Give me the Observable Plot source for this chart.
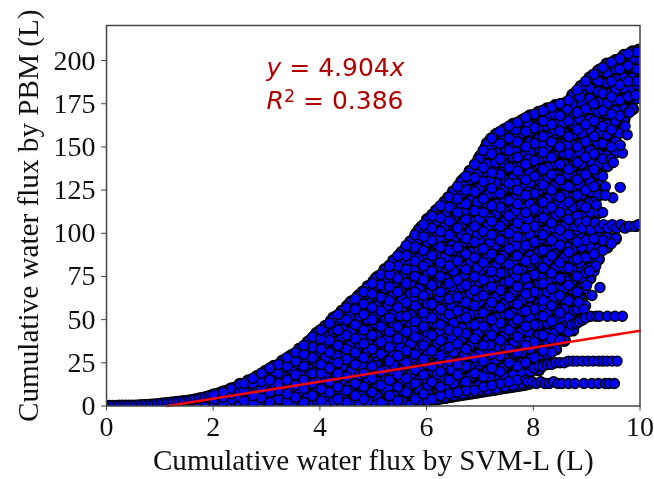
<!DOCTYPE html>
<html><head><meta charset="utf-8">
<script src="https://cdn.jsdelivr.net/npm/d3@7"></script>
<script src="https://cdn.jsdelivr.net/npm/@observablehq/plot@0.6"></script>
<style>html,body{margin:0;padding:0;background:#fff}svg{display:block;filter:blur(0.45px)}</style>
</head><body><div id="chart"></div>
<script>
const xTicks = [0,2,4,6,8,10];
const yTicks = [0,25,50,75,100,125,150,175,200];
const xLabel = "Cumulative water flux by SVM-L (L)";
const yLabel = "Cumulative water flux by PBM (L)";
const fitX = [1.14,10];
const fitY = [0,43.6];
const colX = [2.02,2.18,2.34,2.5,2.66,2.82,2.98,3.14,3.3,3.46,3.62,3.78,3.94,4.1,4.26,4.42,4.58,4.74,4.9,5.06,5.22,5.38,5.54,5.7,5.86,6.02,6.18,6.34,6.5,6.66,6.82,6.98,7.14,7.3,7.46,7.62,7.78,7.94,8.1,8.26,8.42,8.58,8.74,8.9,9.06,9.22,9.38,9.54,9.7,9.86,9.98];
const colY = [
[1,4,6.5],[2,5,8],[1,4,7,10],[1,5,9,12.5],[3,7,11,14.5],[1,5,9,13,17],[3,7,12,16,20],[1,6,11,16,20,23],[3,8,13,18,22,26],[1,6,11,16,21,25,29],[3,8,14,19,24,29,33],[1,6,12,17,22,27,32,37],[3,9,14,20,25,31,36,42],
[1,6,12,17,23,28,34,40,46],[3,9,15,20,26,31,37,43,47,51],[1,6,12,18,23,29,34,40,45,50,55],[3,9,15,20,26,32,37,43,49,54,60],[1,6,12,18,24,29,35,40,46,52,58,64],[3,9,15,21,26,32,38,44,50,55,60,65,69],[1,6,12,18,24,29,35,41,47,53,58,64,69,74],[3,9,15,21,27,32,38,44,50,56,62,68,74,79],
[1,6,12,18,24,30,35,41,47,53,59,65,71,78,84],[3,9,15,21,27,33,38,44,50,56,62,68,75,82,89],[1,6,12,18,24,30,36,42,47,53,59,65,71,77,83,89,95],[3,9,15,21,27,33,39,45,50,56,62,68,74,80,86,91,97,102],[3,8,12,18,24,30,36,42,48,53,59,65,71,77,83,89,95,101,108],
[4,7,13,18,24,30,36,41,47,53,59,65,71,77,83,88,94,100,107,113],[5,10,16,22,28,33,39,45,51,57,62,68,74,80,86,92,98,104,111,118],[6,8,13,19,25,31,36,42,48,54,60,66,72,78,84,90,96,102,108,114,119,124],[7,10,16,22,27,33,39,45,51,57,63,69,75,81,87,93,99,105,111,117,123,130],
[8,11,17,23,29,35,41,47,53,59,65,71,77,83,89,95,101,107,113,119,125,131,136],[9,12,18,24,30,36,42,48,54,60,66,72,78,84,90,96,102,108,114,120,126,132,138,143],[9.5,14,20,26,32,38,44,50,56,62,68,74,80,86,92,98,104,110,116,122,128,134,140,146,152],
[10,15,21,27,33,39,45,51,57,63,69,75,81,87,93,99,105,111,117,123,129,135,141,147,152,157],[11,17,23,29,35,41,47,53,59,65,71,77,83,89,95,101,107,113,119,125,131,137,143,149,155,160],[12,18,24,30,36,42,48,54,60,66,72,78,84,90,96,102,108,114,120,126,132,138,144,150,157,163],
[13,19,25,31,37,43,49,55,61,67,73,79,85,91,97,103,109,115,121,127,133,139,145,151,158,165],[14,20,27,33,39,45,51,57,63,69,75,81,87,93,99,105,111,117,123,129,135,141,147,153,159,164,168],[21,25,29,35,41,47,53,59,65,71,77,83,89,95,101,107,113,119,125,131,137,143,149,155,161,166,170],
[26,30,36,42,48,54,60,66,72,78,84,90,96,102,108,114,120,126,132,138,144,150,156,162,168,172],[33,38,44,50,56,62,68,74,80,86,92,98,104,110,116,122,128,134,140,146,152,158,164,170,174],[38,44,50,56,62,68,74,80,86,92,98,104,110,116,122,128,134,140,146,152,158,164,170,175],
[44,49,55,61,67,73,79,85,91,97,103,109,115,121,127,133,139,145,151,157,163,169,175,180],[50,56,62,68,74,80,86,92,98,104,110,116,122,128,134,140,146,152,158,164,170,176,181,185],[74,80,86,92,98,104,112,118,124,130,136,142,148,154,160,166,172,178,184,190],
[85,91,98,104,112,122,128,134,140,146,152,158,164,170,176,182,188,194],[92,98,139,145,151,157,163,169,175,181,187,193,198],[97,147,153,159,165,171,177,183,189,195,200],[166,172,178,184,190,196,203],[172,178,184,190,196,201,205],[182,188,194,200,206]
];
const midX = [2.58,2.74,2.9,3.06,3.22,3.38,3.54,3.7,3.86,4.02,4.18,4.34,4.5,4.66,4.82,4.98,5.14,5.3,5.46,5.62,5.78,5.94,6.1,6.26,6.42,6.58,6.74,6.9,7.06,7.22,7.38,7.54,7.7,7.86,8.02,8.18,8.34,8.5,8.66,8.82,8.98,9.14,9.3,9.46,9.62,9.78,9.94];
const midY = [
[3,9,13],[2,6,13,16],[5,10,14,19],[2,8,15,22],[4,9,13,19,24],[2,7,15,23,28],[5,12,18,26,31],[2,10,15,23,30,35],[6,13,19,28,34,40],[3,10,19,24,33,39,44],[8,14,22,31,38,48],[4,11,19,25,35,44,53],[2,9,17,27,33,41,50,57],[6,13,24,31,39,47,56,62],[4,11,19,28,36,44,53,59,66],[8,16,23,33,41,50,57,65,71],
[2,12,20,30,37,46,55,63,70,76],[6,15,26,34,43,51,61,69,76,81],[3,11,18,29,39,46,57,66,74,81,87],[8,16,25,32,43,52,60,71,79,87,93],[4,13,21,30,40,49,58,66,75,84,92,99],[7,18,27,35,46,54,64,73,81,90,98,105],[4,14,23,32,41,51,59,70,78,87,96,103,110],[6,11,20,29,38,47,56,66,75,83,92,101,109,116],
[7,15,26,34,44,53,62,71,81,90,99,107,115,121],[8,18,24,36,43,55,63,73,84,92,103,112,120,127],[9,14,23,33,42,51,60,70,79,88,97,108,117,125,133],[9,19,28,39,47,58,67,75,86,95,104,113,124,132,140],[11,17,26,35,46,54,64,73,83,91,101,112,120,130,138,148],[12,22,30,41,50,60,69,78,88,99,107,116,126,135,146,155],
[13,20,29,38,48,57,67,77,85,96,104,115,123,134,143,152,159],[14,25,33,44,53,63,72,82,91,100,110,119,129,138,148,155,162],[15,23,31,40,50,59,69,79,87,98,106,117,125,136,144,153,164],[15,25,35,46,55,65,74,84,93,103,112,122,131,140,150,159,167],[22,28,37,47,56,66,76,85,95,104,114,123,133,142,152,161,169],[24,32,41,52,61,71,80,90,99,109,118,128,137,147,156,165,171],
[31,39,49,58,68,77,87,96,106,115,125,134,144,153,163,173],[38,45,54,64,74,83,93,102,112,121,131,140,150,159,168,175],[43,51,61,70,80,89,99,108,118,127,137,146,156,165,177],[48,56,66,75,85,95,102,110,122,131,141,150,160,170,183],[58,68,77,86,96,104,115,125,134,144,153,163,172,188],[78,88,97,104,118,127,137,146,156,165,175,192],
[90,96,103,133,143,152,162,171,181,196],[94,104,143,150,160,169,179,188,199],[104,158,168,177,186,195,201],[104,170,179,188,197,204],[104,178,186,195,205]
];
const patchX = [3.72,4.07,4.31,4.55,4.79,5.03,5.27,5.51,5.75,5.99,6.23,6.47,6.71,6.95,7.19,7.43,7.67,7.91,8.15,8.39,8.63,8.87];
const patchY = [
[11,27],[8,22,36],[17,29,44],[11,35,52],[7,23,41,57],[15,31,48,64],[10,26,39,58,73],[19,34,52,67,83],[5,28,44,61,79,91],[16,37,50,72,88,103],[9,25,43,63,81,97,110],[21,39,57,69,93,106,118],[13,30,54,76,89,112,127],[26,42,63,80,99,118,134],[16,35,58,72,95,109,131,148],[22,46,65,87,102,125,141,155],[30,51,75,93,113,129,147,160],[24,43,69,83,108,124,143,163],[33,58,74,97,119,136,152,166],[42,63,88,103,127,145,160,169],[47,72,92,111,134,151,172],[62,83,100,128,147,166,179]
];
const strayX = [9.25,9.1,8.85,9.17,9.05,9.63,9.49,9.35,9.35,9.18,9.3,9.67,9.5,9.63,9.76,9.72,9.8,9.92,9.95,9.0,8.95];
const strayY = [68.6,64,60,81,78,126.6,120.6,127,122,116.5,112,146.5,141,151,157,162,170,180,188,70,56];
const stripX = [0,.06,.12,.18,.24,.3,.36,.42,.48,.54,.6,.66,.72,.78,.84,.9,.96,1.02,1.08,1.14,1.2,1.26,1.32,1.38,1.44,1.5,1.56,1.62,1.68,1.74,1.8,1.86,1.92,1.98,2.04,2.1,2.16,2.22,2.28,2.34,2.4,2.46,2.52,2.58,2.64,2.7,2.76,2.82,2.88,2.94,3,3.06,3.12,3.18,3.24,3.3];
const stripY = [.3,.3,.3,.3,.4,.4,.4,.5,.5,.5,.6,.7,.8,.9,1,1.2,1.4,1.6,1.8,2,2.2,2.4,2.6,2.8,3,3.2,3.5,3.8,4.2,4.6,5,5.4,5.9,6.5,7,7.6,8.2,8.8,9.4,10,10.8,11.6,12.4,13.2,14,15,16,17,18,19,20.5,21.5,22.5,23.5,24.5,25.5];
const rimX = [3.4,3.5,3.6,3.7,3.8,3.9,4,4.1,4.2,4.3,4.4,4.5,4.6,4.7,4.8,4.9,5,5.1,5.2,5.3,5.4,5.5,5.6,5.7,5.8,5.9,6,6.1,6.2,6.3,6.4,6.5,6.6,6.7,6.8,6.9,7,7.1,7.2,7.32,7.44,7.56,7.68,7.8,7.92,8.04,8.16,8.28,8.4,8.52,8.64,8.76,8.88,9,9.12,9.24,9.36,9.48,9.6,9.72,9.84,9.96];
const rimY = [28,30,32.5,35,38,41,44,46.5,49.5,52,55,58,61,63.5,66.5,69.5,72.5,75.5,78.5,81.5,84.5,88,91.5,95.5,100,104,108,111,114,117,121,124.5,128,132,136,140,145,150,155,158,160,162,164,166,168,169,171,172,173.5,175,176,181,185,188,192,195,197,199,201,203,205,206];
const lowRowX = [.05,.2,.35,.5,.65,.8,.95,1.1,1.25,1.4,1.55,1.7,1.85,2,2.15,2.3];
const lowRowY = [-1.5,-1,-1.5,-1,-1.5,-1,-1.2,-.8,-.6,-.4,-.4,0,-.4,0,.5,.8];
const edgeX = [6.14,6.2,6.26,6.32,6.38,6.44,6.5,6.56,6.62,6.68,6.74,6.8,6.86,6.92,6.98,7.04,7.1,7.16,7.22,7.28,7.34,7.4,7.46,7.52,7.58,7.64,7.7,7.76,7.82,7.88,7.94];
const edgeY = [3.4,3.7,4,4.3,4.6,5,5.3,5.6,5.9,6.2,6.5,6.8,7.1,7.4,7.7,8,8.3,8.6,8.9,9.2,9.5,9.8,10.1,10.4,10.7,11,11.3,11.6,11.9,12.3,12.7];
const shelfX = [7.9,7.98,8.06,8.14,8.22,8.3,8.38,8.46,8.54,8.66,8.78,8.95,9.1,9.22,9.35,9.42,9.52,  8.1,8.18,8.26,8.34,8.42,8.5,8.58,8.66,8.74,8.82,8.92,9.02,9.12,9.22,9.3,9.38,9.48,9.57,  8.72,8.8,8.86,8.92,8.98,9.08,9.18,9.24,9.39,9.53,9.67,  8.8,8.86,8.92,9,9.08,9.16,9.24,9.32,9.4,9.48,9.56,9.64,9.72,9.8,9.9,9.97];
const shelfY = [14,14,13,14,13,13,14,13,13,13,13,13,13,13,13,13,13,  23,23,24,24,25,25,25,26,26,26,26,26,26,26,26,26,26,26,  47,48,49,50,51,52,52,52,52,52,52,  104,106,103,107,102,106,103,105,103,105,103,105,103,104,104,105];
const noteX = [3,3];
const noteY = [195.5,176.5];

const flat = [];
colX.forEach((x,i)=>colY[i].forEach(y=>flat.push({x,y,l:i%2})));
patchX.forEach((x,i)=>patchY[i].forEach(y=>flat.push({x,y,l:2})));
midX.forEach((x,i)=>midY[i].forEach(y=>flat.push({x,y,l:3+i%2})));
flat.sort((a,b)=>a.l-b.l);
const pairs = (xs,ys)=>xs.map((x,i)=>({x,y:ys[i]}));
const dotStyle = {x:"x",y:"y",r:5,fill:"#0000ff",stroke:"#000",strokeWidth:1.4,clip:"frame"};

const plot = Plot.plot({
  width:654,height:479,marginLeft:106,marginRight:14.5,marginTop:25,marginBottom:73.5,
  style:{fontFamily:"'Liberation Serif',serif",fontSize:"28px",color:"#111",background:"#fff"},
  x:{domain:[0,10]},
  y:{domain:[0,220.3]},
  marks:[
    Plot.dot(flat.filter(d=>d.l<3),{x:"x",y:"y",r:6.6,fill:"#000",clip:"frame"}),
    Plot.dot(pairs(rimX,rimY),dotStyle),
    Plot.dot(pairs(edgeX,edgeY),dotStyle),
    Plot.dot(pairs(lowRowX,lowRowY),dotStyle),
    Plot.dot(pairs(stripX,stripY),dotStyle),
    Plot.dot(flat,dotStyle),
    Plot.dot(pairs(strayX,strayY),dotStyle),
    Plot.dot(pairs(shelfX,shelfY),dotStyle),
    Plot.lineY(pairs(fitX,fitY),{x:"x",y:"y",stroke:"#ff0000",strokeWidth:2.4}),
    Plot.frame({stroke:"#444",strokeWidth:1.5}),
    Plot.axisX({ticks:xTicks,tickFormat:d=>d,tickSize:5,tickPadding:5,stroke:"#444",label:xLabel,labelAnchor:"center",labelArrow:"none",labelOffset:64}),
    Plot.axisY({ticks:yTicks,tickFormat:d=>d,tickSize:5,tickPadding:6,stroke:"#444",label:yLabel,labelAnchor:"center",labelArrow:"none",labelOffset:89}),
    Plot.text(["y = 4.904x","R2 = 0.386"],{x:(d,i)=>noteX[i],y:(d,i)=>noteY[i],text:d=>d,textAnchor:"start",fontFamily:"'DejaVu Sans',sans-serif",fontSize:25,fill:"#b00000",className:"note"})
  ]
});
document.getElementById("chart").appendChild(plot);
d3.select(plot).selectAll('g[aria-label="x-axis label"],g[aria-label="y-axis label"]').attr("font-size",29.2);
d3.select(plot).selectAll("g.note text").each(function(d,i){
  const t=d3.select(this);
  t.text(null);
  const add=(s,it)=>{const sp=t.append("tspan").text(s);if(it)sp.attr("font-style","italic");return sp;};
  if(i===0){add("y",1);add(" = 4.904");add("x",1);}
  else{add("R",1);add("2").attr("dy","-0.42em").attr("font-size","70%");add(" = 0.386").attr("dy","0.29em");}
});
</script></body></html>
